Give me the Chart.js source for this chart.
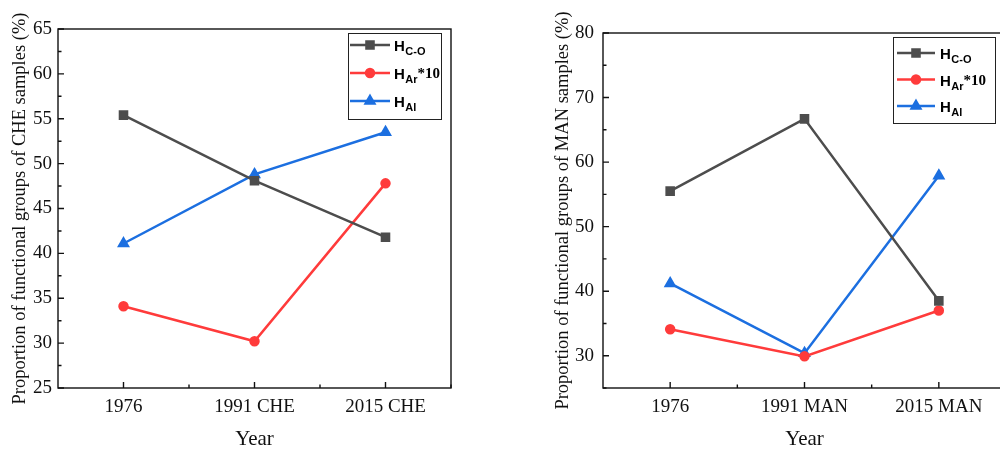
<!DOCTYPE html>
<html>
<head>
<meta charset="utf-8">
<script src="https://cdn.jsdelivr.net/npm/chart.js@4/dist/chart.umd.min.js"></script>
<style>
  html, body { margin: 0; padding: 0; background: #fff; overflow: hidden; width: 1000px; height: 452px; }
  .box { position: absolute; top: 0; height: 452px; }
</style>
</head>
<body>
<div class="box" style="left:0;width:470px"><canvas id="che"></canvas></div>
<div class="box" style="left:540px;width:475px"><canvas id="man"></canvas></div>
<script>
// CHE samples
const cheYears = ['1976', '1991 CHE', '2015 CHE'];
const cheHco = [55.4, 48.1, 41.8];
const cheHar10 = [34.1, 30.2, 47.8];
const cheHal = [41.1, 48.8, 53.5];
const cheTicks = [25, 30, 35, 40, 45, 50, 55, 60, 65];

// MAN samples
const manYears = ['1976', '1991 MAN', '2015 MAN'];
const manHco = [55.5, 66.7, 38.5];
const manHar10 = [34.1, 29.9, 37.0];
const manHal = [41.2, 30.4, 57.9];
const manTicks = [30, 40, 50, 60, 70, 80];

const GRAY = '#4d4d4d', RED = '#ff3b3b', BLUE = '#1c6fe0';
const serif = '"Liberation Serif", "Times New Roman", serif';
const sans = '"Liberation Sans", Arial, sans-serif';

// box around the plot area plus inward major/minor ticks
const frameTicks = {
  id: 'frameTicks',
  afterDraw(chart, args, o) {
    const { ctx, chartArea: a, scales: { x, y } } = chart;
    ctx.save();
    ctx.strokeStyle = '#111';
    ctx.lineWidth = 1.4;
    ctx.strokeRect(a.left, a.top, a.right - a.left, a.bottom - a.top);
    ctx.beginPath();
    const half = o.yStep / 2;
    for (let v = Math.ceil(y.min / half) * half; v <= y.max + 1e-9; v += half) {
      const py = y.getPixelForValue(v);
      const major = Math.abs(v / o.yStep - Math.round(v / o.yStep)) < 1e-6;
      ctx.moveTo(a.left, py);
      ctx.lineTo(a.left + (major ? 6 : 3.5), py);
    }
    for (let i = 0; i < x.getLabels().length; i += 0.5) {
      const px = x.getPixelForValue(i);
      ctx.moveTo(px, a.bottom);
      ctx.lineTo(px, a.bottom - (i % 1 === 0 ? 6 : 3.5));
    }
    ctx.stroke();
    ctx.restore();
  }
};

// legend box with subscripted labels
const subLegend = {
  id: 'subLegend',
  afterDraw(chart, args, o) {
    const { ctx, chartArea: a } = chart;
    const right = a.right - o.inset;
    const left = right - o.w;
    const top = a.top + o.top;
    ctx.save();
    ctx.fillStyle = '#fff';
    ctx.fillRect(left, top, o.w, o.h);
    ctx.strokeStyle = '#222';
    ctx.lineWidth = 1;
    ctx.strokeRect(left + 0.5, top + 0.5, o.w, o.h);
    chart.data.datasets.forEach((ds, i) => {
      const cy = top + o.rowTop + i * o.rowGap;
      ctx.strokeStyle = ds.borderColor;
      ctx.fillStyle = ds.borderColor;
      ctx.lineWidth = 2.5;
      ctx.beginPath();
      ctx.moveTo(left + o.lineL, cy);
      ctx.lineTo(left + o.lineR, cy);
      ctx.stroke();
      Chart.helpers.drawPoint(ctx, { pointStyle: ds.pointStyle, rotation: 0, radius: ds.pointRadius, borderWidth: 1 },
        left + (o.lineL + o.lineR) / 2, cy);
      ctx.fillStyle = '#000';
      ctx.textBaseline = 'alphabetic';
      let tx = left + o.textX;
      ctx.font = 'bold 15px ' + sans;
      ctx.fillText('H', tx, cy + 6);
      tx += ctx.measureText('H').width + 0.5;
      ctx.font = 'bold 11px ' + sans;
      ctx.fillText(ds.sub, tx, cy + 10);
      tx += ctx.measureText(ds.sub).width;
      if (ds.suffix) {
        ctx.font = 'bold 15px ' + serif;
        ctx.fillText(ds.suffix, tx, cy + 5);
      }
    });
    ctx.restore();
  }
};

function series(label, sub, suffix, data, color, style, radius) {
  return {
    label, sub, suffix, data,
    borderColor: color, backgroundColor: color,
    pointBackgroundColor: color, pointBorderColor: color,
    pointStyle: style, pointRadius: radius, pointHoverRadius: radius,
    borderWidth: 2.5, tension: 0
  };
}

function makeChart(id, years, hco, har, hal, ticks, yMin, yMax, yStep, cfg) {
  new Chart(document.getElementById(id), {
    type: 'line',
    data: {
      labels: years,
      datasets: [
        series('HC-O', 'C-O', '', hco, GRAY, 'rect', 5),
        series('HAr*10', 'Ar', '*10', har, RED, 'circle', 4),
        series('HAl', 'Al', '', hal, BLUE, 'triangle', 5)
      ]
    },
    options: {
      responsive: true,
      maintainAspectRatio: false,
      animation: false,
      layout: { padding: { top: cfg.top, right: cfg.right, left: 0, bottom: 0 } },
      plugins: {
        legend: { display: false },
        tooltip: { enabled: false },
        frameTicks: { yStep },
        subLegend: cfg.legend
      },
      scales: {
        x: {
          type: 'category',
          offset: true,
          grid: { display: false, drawTicks: false },
          border: { display: false },
          ticks: { color: '#111', padding: 8, font: { family: serif, size: 19 }, maxRotation: 0 },
          title: { display: true, text: 'Year', color: '#111', padding: { top: 6, bottom: 0 },
            font: { family: serif, size: 21 } },
          afterFit(s) { s.height = 452 - cfg.bottom; }
        },
        y: {
          min: yMin, max: yMax,
          grid: { display: false, drawTicks: false },
          border: { display: false },
          afterBuildTicks(s) { s.ticks = ticks.map(v => ({ value: v })); },
          ticks: { color: '#111', padding: cfg.tickPad, font: { family: serif, size: 19 } },
          title: { display: true, text: cfg.yTitle, color: '#111', padding: { top: cfg.titlePad, bottom: 0 },
            font: { family: serif, size: 18.5 } },
          afterFit(s) { s.width = cfg.yWidth; }
        }
      }
    },
    plugins: [frameTicks, subLegend]
  });
}

makeChart('che', cheYears, cheHco, cheHar10, cheHal, cheTicks, 25, 65, 5, {
  top: 29, right: 19, bottom: 388, yWidth: 58, tickPad: 6, titlePad: 9,
  yTitle: 'Proportion of functional groups of CHE samples (%)',
  legend: { inset: 10, top: 4, w: 93, h: 86, rowTop: 12, rowGap: 28, lineL: 2, lineR: 42, textX: 46 }
});

makeChart('man', manYears, manHco, manHar10, manHal, manTicks, 25, 80, 10, {
  top: 33, right: 9, bottom: 388, yWidth: 63, tickPad: 9, titlePad: 12,
  yTitle: 'Proportion of functional groups of MAN samples (%)',
  legend: { inset: 11, top: 4, w: 102, h: 86, rowTop: 16, rowGap: 26.5, lineL: 4, lineR: 42, textX: 47 }
});
</script>
</body>
</html>
